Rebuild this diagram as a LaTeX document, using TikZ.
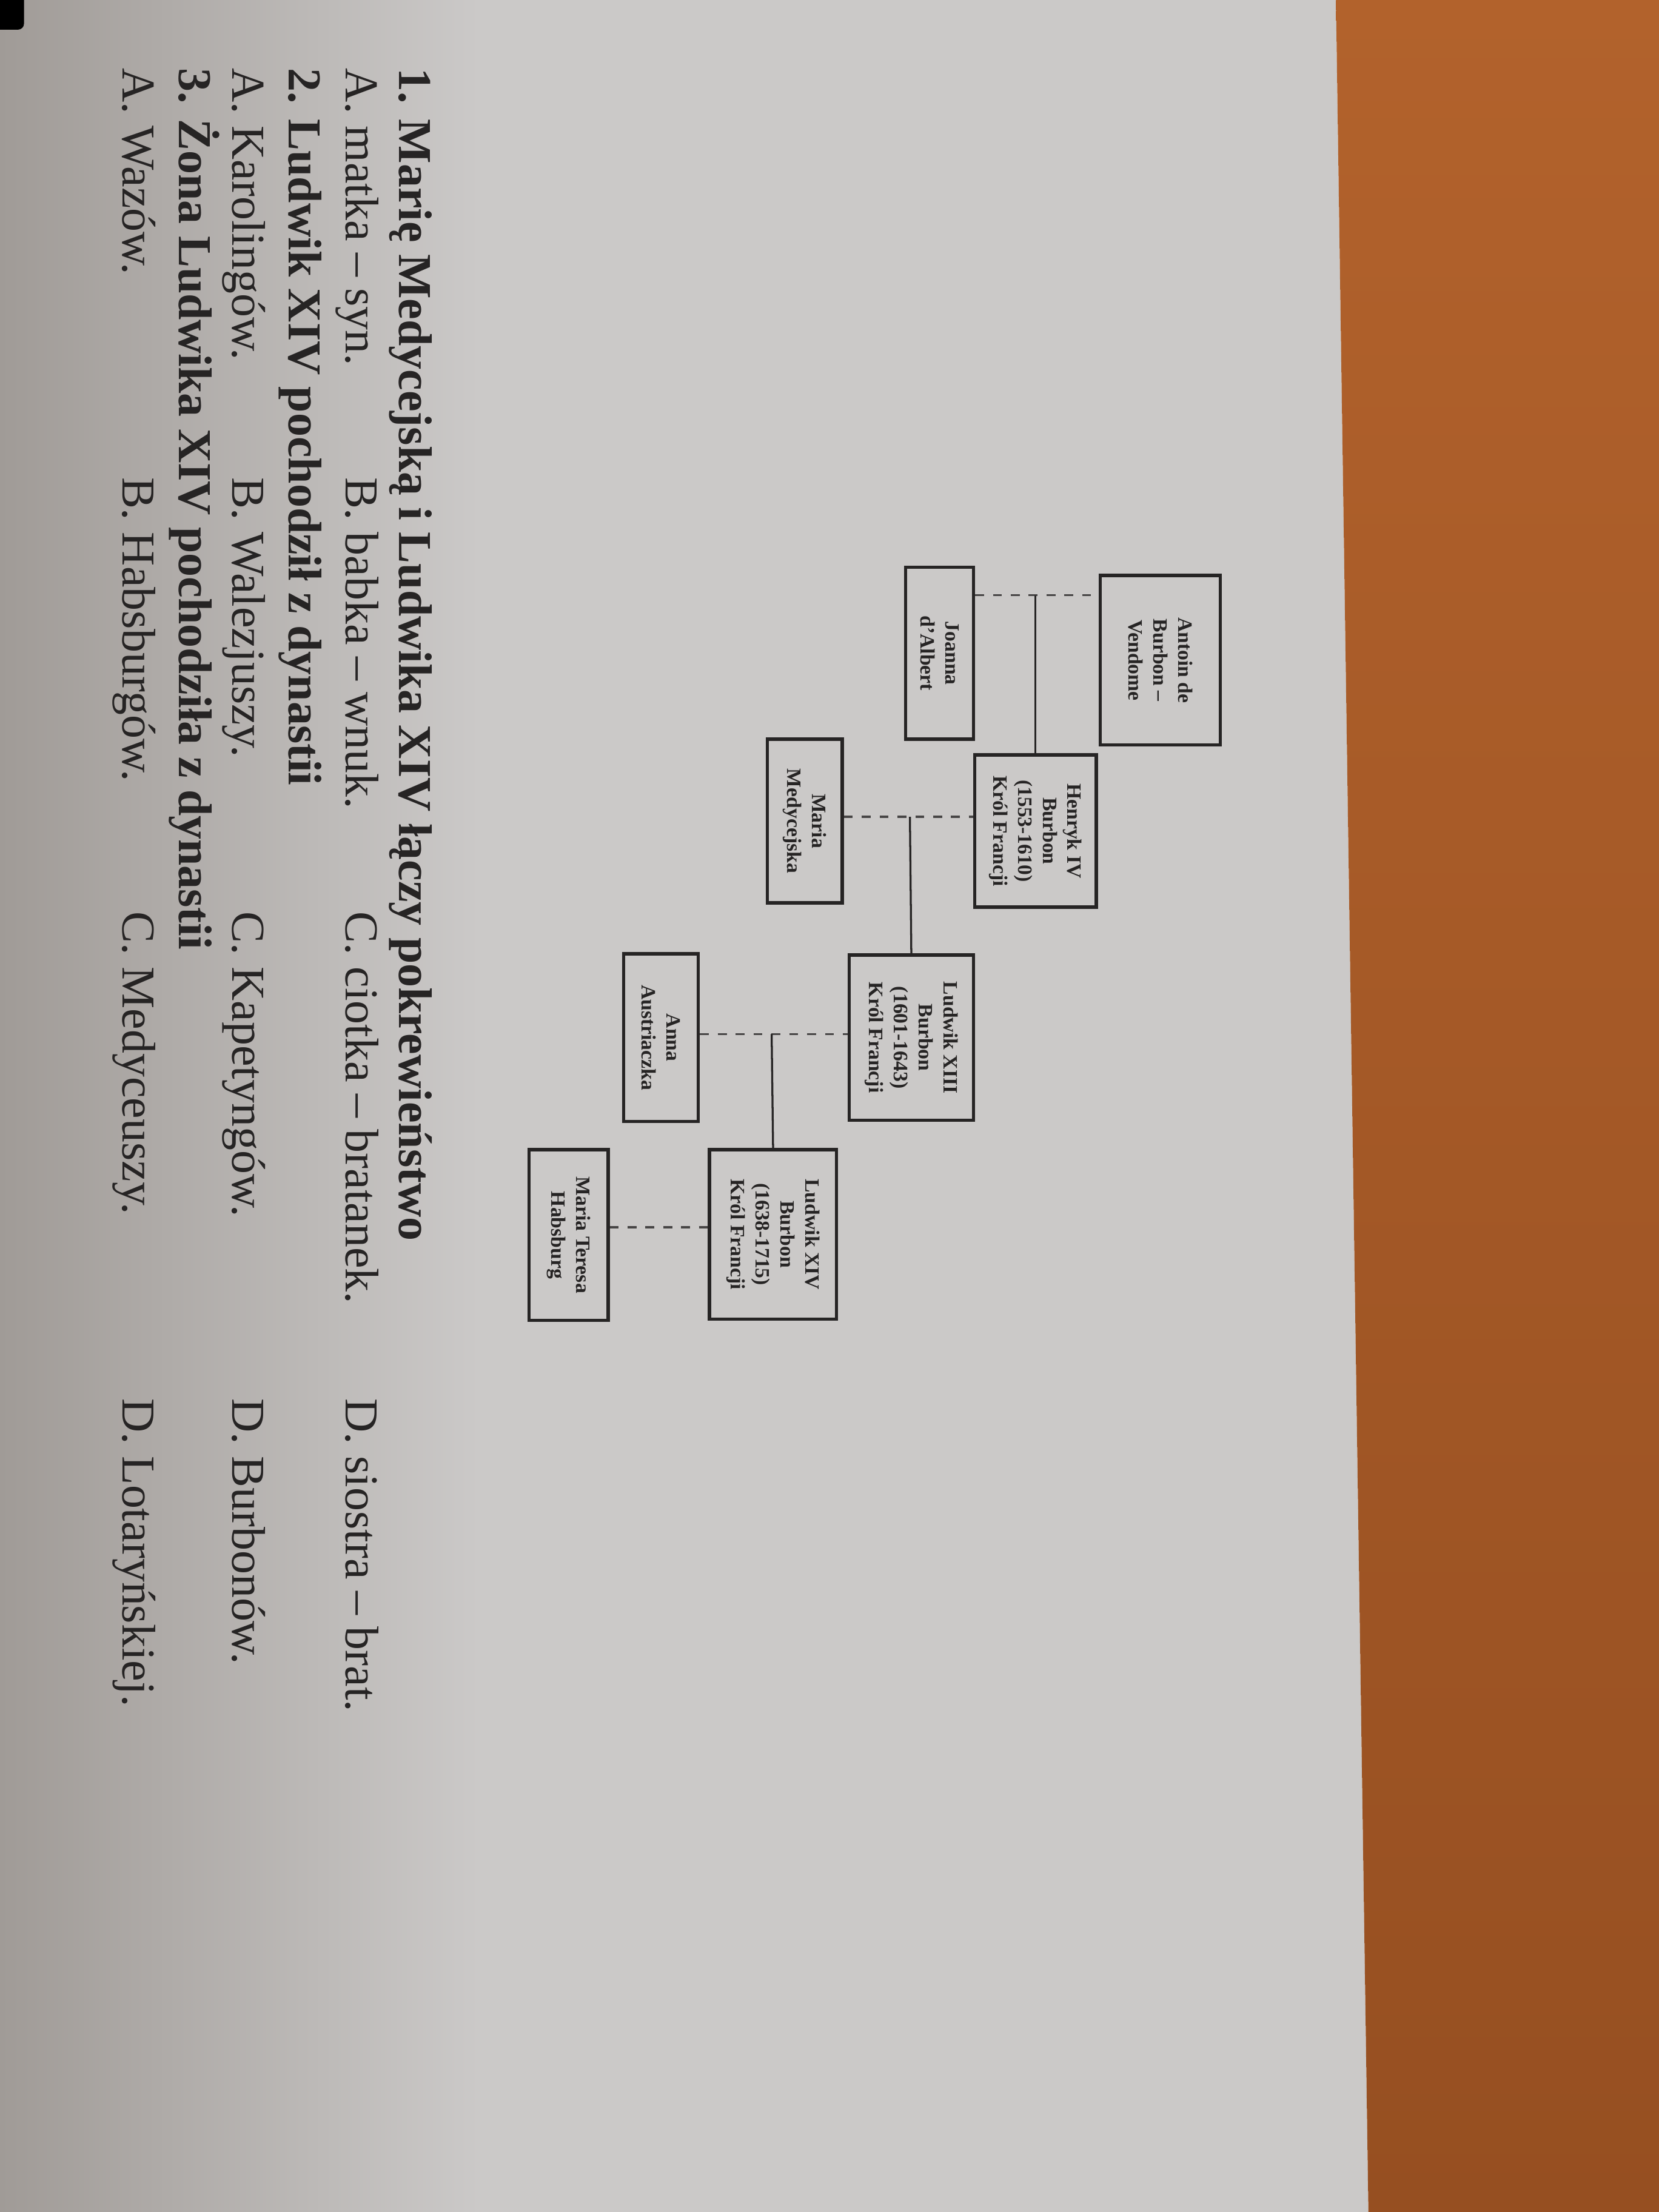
\documentclass[tikz,border=0pt]{standalone}
\usepackage{fontspec}
\setmainfont{Liberation Serif}
\usepackage{xcolor}
\usetikzlibrary{positioning}

\definecolor{paperL}{RGB}{160,155,151}
\definecolor{paperR}{RGB}{203,201,200}
\definecolor{woodA}{RGB}{178,98,44}
\definecolor{woodB}{RGB}{150,79,33}
\definecolor{ink}{RGB}{38,36,36}

\newcommand{\upx}{0.025cm}

\begin{document}
\begin{tikzpicture}[
    x=0.025cm, y=-0.025cm,
    person/.style={rectangle, draw=ink, line width=1.7pt, rotate=-90, align=center,
        inner sep=0pt, text=ink, font=\fontsize{10.3}{12.5}\selectfont\bfseries},
    wed/.style={draw=ink!85, line width=1pt, dash pattern=on 4.5pt off 4.5pt},
    kid/.style={draw=ink, line width=1pt},
    ask/.style={rotate=-90, anchor=base west, inner sep=0pt, text=ink,
        font=\fontsize{23.8}{28}\selectfont\bfseries},
    opt/.style={ask, font=\fontsize{23.8}{28}\selectfont},
]
    % --- page and desk ---
    \useasboundingbox (0,0) rectangle (1176,1568);
    \fill[paperR] (0,0) -- (947,0) -- (970,1568) -- (0,1568) -- cycle;
    \shade[left color=paperL, right color=paperR] (0,0) rectangle (340,1568);
    \shade[top color=woodA, bottom color=woodB]
        (947,0) -- (1176,0) -- (1176,1568) -- (970,1568) -- cycle;
    \fill[black, rounded corners=3pt] (-6,-6) rectangle (17,21);

    % --- family tree (boxes turned with the page) ---
    \node[person, minimum width=120*\upx, minimum height=85*\upx] (antoin) at (822.5,468)
        {Antoin de\\Burbon –\\Vendome};
    \node[person, minimum width=122*\upx, minimum height=48*\upx] (joanna) at (666,463)
        {Joanna\\d’Albert};
    \node[person, minimum width=108*\upx, minimum height=86*\upx] (henryk) at (734,589)
        {Henryk IV\\Burbon\\(1553-1610)\\Król Francji};
    \node[person, minimum width=116*\upx, minimum height=53*\upx] (maria) at (570.5,582)
        {Maria\\Medycejska};
    \node[person, minimum width=117*\upx, minimum height=88*\upx] (lxiii) at (646,735.5)
        {Ludwik XIII\\Burbon\\(1601-1643)\\Król Francji};
    \node[person, minimum width=119*\upx, minimum height=53*\upx] (anna) at (468.5,735.5)
        {Anna\\Austriaczka};
    \node[person, minimum width=120*\upx, minimum height=90*\upx] (lxiv) at (548,875)
        {Ludwik XIV\\Burbon\\(1638-1715)\\Król Francji};
    \node[person, minimum width=121*\upx, minimum height=56*\upx] (mt) at (403,875.5)
        {Maria Teresa\\Habsburg};

    % marriages (dashed) and children (solid)
    \coordinate (m1) at (734,422);
    \coordinate (m2) at (645,579);
    \coordinate (m3) at (547,733);
    \coordinate (m4) at (468,870);
    \draw[wed] (joanna.north |- m1) -- (antoin.south |- m1);
    \draw[kid] (m1) -- (henryk.west);
    \draw[wed] (maria.north |- m2) -- (henryk.south |- m2);
    \draw[kid] (m2) -- (lxiii.west);
    \draw[wed] (anna.north |- m3) -- (lxiii.south |- m3);
    \draw[kid] (m3) -- (lxiv.west);
    \draw[wed] (mt.north |- m4) -- (lxiv.south |- m4);

    % --- questions ---
    \node[ask] (q1) at (283,48) {1. Marię Medycejską i Ludwika XIV łączy pokrewieństwo};
    \node[opt] (q1a) at (245,48) {A. matka – syn.};
    \node[opt] (q1b) at (245,338) {B. babka – wnuk.};
    \node[opt] (q1c) at (245,646) {C. ciotka – bratanek.};
    \node[opt] (q1d) at (245,991) {D. siostra – brat.};

    \node[ask] (q2) at (205,48) {2. Ludwik XIV pochodził z dynastii};
    \node[opt] (q2a) at (165,48) {A. Karolingów.};
    \node[opt] (q2b) at (165,338) {B. Walezjuszy.};
    \node[opt] (q2c) at (165,646) {C. Kapetyngów.};
    \node[opt] (q2d) at (165,991) {D. Burbonów.};

    \node[ask] (q3) at (127,48) {3. Żona Ludwika XIV pochodziła z dynastii};
    \node[opt] (q3a) at (87,48) {A. Wazów.};
    \node[opt] (q3b) at (87,338) {B. Habsburgów.};
    \node[opt] (q3c) at (87,646) {C. Medyceuszy.};
    \node[opt] (q3d) at (87,991) {D. Lotaryńskiej.};
\end{tikzpicture}
\end{document}
